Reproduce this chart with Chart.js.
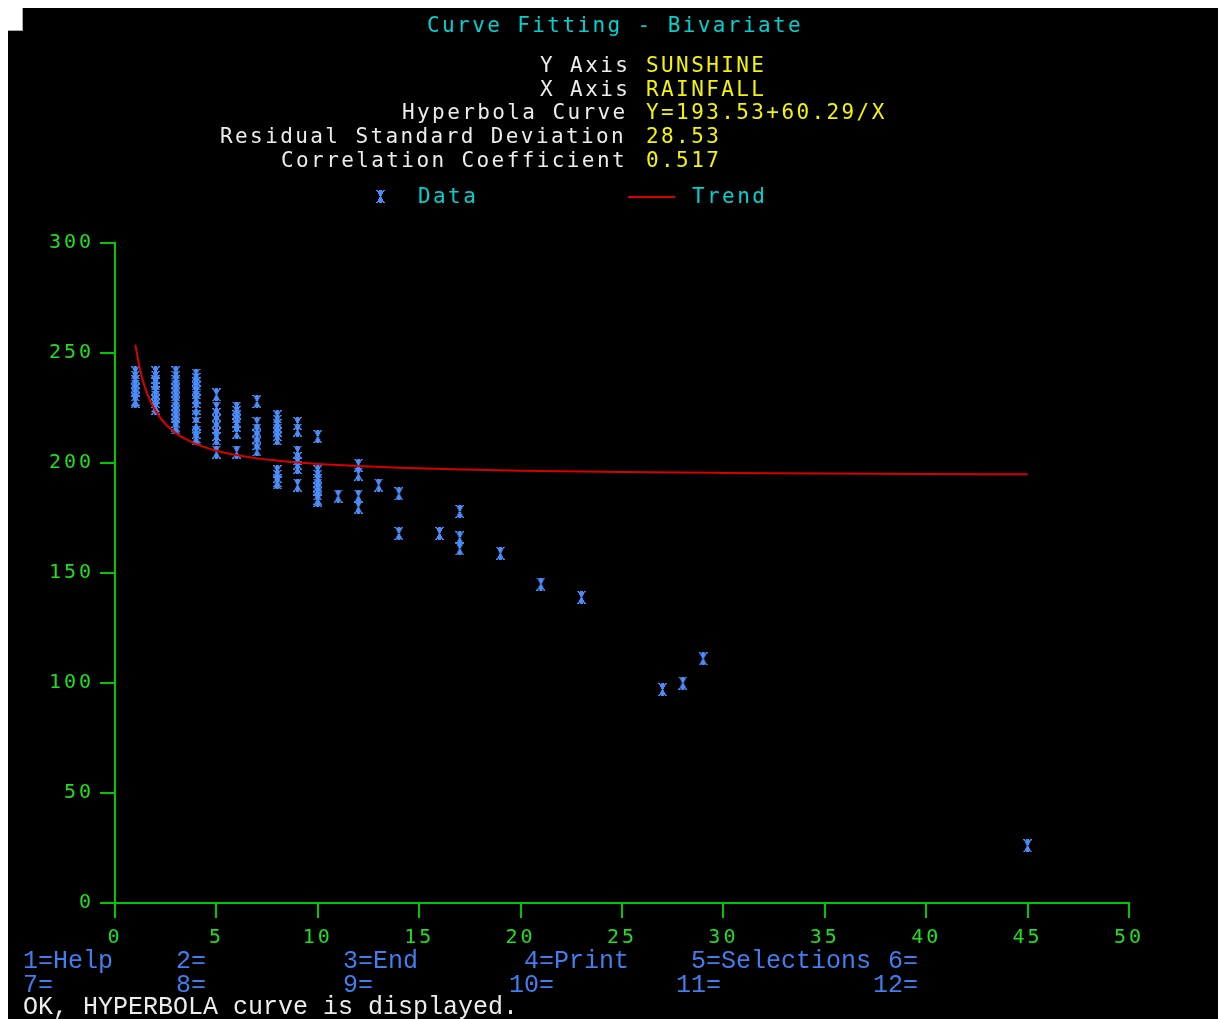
<!DOCTYPE html>
<html>
<head>
<meta charset="utf-8">
<title>Curve Fitting - Bivariate</title>
<script src="https://cdn.jsdelivr.net/npm/chart.js@4.4.1/dist/chart.umd.min.js"></script>
<style>
  html, body { margin: 0; padding: 0; width: 1219px; height: 1019px; overflow: hidden; background: #fff; }
  #screen { position: absolute; left: 8px; top: 8px; width: 1210px; height: 1011px; background: #000; }
  #notch { position: absolute; left: 8px; top: 8px; width: 14px; height: 22px; background: #fff;
           border-right: 1px solid #aaa; border-bottom: 1px solid #aaa; }
  #chart { position: absolute; left: 0; top: 0; }
  .t { position: absolute; font-family: "DejaVu Sans Mono", monospace; font-size: 21px;
       letter-spacing: 2.4px; line-height: 24px; white-space: pre; }
  .f { position: absolute; font-family: "Liberation Mono", monospace; font-size: 25px;
       line-height: 24px; white-space: pre; color: #3f7ff0; }
  .cyan { color: #00d2d2; }
  .white { color: #ececec; }
  .yellow { color: #f4f400; }
  #legendGlyph { position: absolute; left: 376px; top: 190px; }
  #legendLine { position: absolute; left: 628px; top: 196px; width: 47px; height: 2px; background: #d80000; }
</style>
</head>
<body>
<div id="screen"></div>
<div id="notch"></div>
<canvas id="chart" width="1219" height="1019"></canvas>

<div class="t cyan" style="left:427px; top:13px;">Curve Fitting - Bivariate</div>

<div class="t white" style="left:540px; top:53px;">Y Axis</div>
<div class="t yellow" style="left:646px; top:53px;">SUNSHINE</div>
<div class="t white" style="left:540px; top:77px;">X Axis</div>
<div class="t yellow" style="left:646px; top:77px;">RAINFALL</div>
<div class="t white" style="left:402px; top:100px;">Hyperbola Curve</div>
<div class="t yellow" style="left:646px; top:100px;">Y=193.53+60.29/X</div>
<div class="t white" style="left:220px; top:124px;">Residual Standard Deviation</div>
<div class="t yellow" style="left:646px; top:124px;">28.53</div>
<div class="t white" style="left:281px; top:148px;">Correlation Coefficient</div>
<div class="t yellow" style="left:646px; top:148px;">0.517</div>

<canvas id="legendGlyph" width="9" height="13"></canvas>
<div class="t cyan" style="left:418px; top:184px;">Data</div>
<div id="legendLine"></div>
<div class="t cyan" style="left:692px; top:184px;">Trend</div>

<div class="f" style="left:23px; top:950px;">1=Help</div>
<div class="f" style="left:176px; top:950px;">2=</div>
<div class="f" style="left:343px; top:950px;">3=End</div>
<div class="f" style="left:524px; top:950px;">4=Print</div>
<div class="f" style="left:691px; top:950px;">5=Selections</div>
<div class="f" style="left:888px; top:950px;">6=</div>
<div class="f" style="left:23px; top:974px;">7=</div>
<div class="f" style="left:176px; top:974px;">8=</div>
<div class="f" style="left:343px; top:974px;">9=</div>
<div class="f" style="left:509px; top:974px;">10=</div>
<div class="f" style="left:676px; top:974px;">11=</div>
<div class="f" style="left:873px; top:974px;">12=</div>
<div class="f white" style="left:23px; top:996px;">OK, HYPERBOLA curve is displayed.</div>

<script>
// rainfall values and the sunshine readings plotted above each one
const rainfall = [1, 2, 3, 4, 5, 6, 7, 8, 9, 10, 11, 12, 13, 14, 16, 17, 19, 21, 23, 27, 28, 29, 45];
const sunshine = [
  [241, 239, 237, 235, 233, 231, 229, 228],
  [241, 239, 237, 236, 234, 232, 230, 228, 226, 225],
  [241, 239, 237, 235, 233, 231, 229, 227, 225, 223, 221, 219, 217, 216],
  [240, 238, 236, 234, 232, 230, 228, 225, 221, 218, 214, 212, 211],
  [231, 225, 222, 219, 216, 213, 211, 205],
  [225, 223, 221, 219, 217, 214, 205],
  [228, 218, 215, 212, 209, 206],
  [221, 219, 217, 215, 213, 211, 196, 194, 192, 191],
  [218, 215, 205, 202, 200, 198, 190],
  [212, 196, 194, 192, 190, 188, 186, 184, 183],
  [185],
  [199, 195, 185, 180],
  [190],
  [186, 168],
  [168],
  [178, 166, 161],
  [159],
  [145],
  [139],
  [97],
  [100],
  [111],
  [26],
];

// trend curve
const trendX = [1, 1.25, 1.5, 1.75, 2, 2.5, 3, 3.5, 4, 5, 6, 7, 8, 9, 10, 12, 14, 17, 20, 25, 30, 35, 40, 45];
const trendY = [253.8, 241.8, 233.7, 228.0, 223.7, 217.6, 213.6, 210.8, 208.6, 205.6, 203.6, 202.1,
                201.1, 200.2, 199.6, 198.6, 197.8, 197.1, 196.5, 195.9, 195.5, 195.2, 195.0, 194.9];

const GREEN = "#00c800";
const GREEN_TXT = "#1ee01e";
const BLUE = "#4a8cf8";
const TERM_FONT = "'DejaVu Sans Mono', monospace";

// little hourglass "x" the terminal draws for each data point
const glyphRows = [
  "##.###.##",
  ".#######.",
  "..#####..",
  "..#####..",
  "...###...",
  "...###...",
  "....#....",
  "...###...",
  "...###...",
  "..#####..",
  "..#####..",
  ".#######.",
  "##.###.##",
];

function drawGlyph(canvas, color) {
  const g = canvas.getContext("2d");
  g.fillStyle = color;
  glyphRows.forEach((row, y) => {
    [...row].forEach((ch, x) => {
      if (ch === "#") g.fillRect(x, y, 1, 1);
    });
  });
  return canvas;
}

const glyph = document.createElement("canvas");
glyph.width = 9;
glyph.height = glyphRows.length;
drawGlyph(glyph, BLUE);
drawGlyph(document.getElementById("legendGlyph"), BLUE);

const points = [];
rainfall.forEach((x, i) => {
  sunshine[i].forEach((y) => points.push({ x, y }));
});
const trend = trendX.map((x, i) => ({ x, y: trendY[i] }));

const spacing = {
  id: "spacing",
  beforeDraw(chart) {
    chart.ctx.letterSpacing = "3px";
  },
};

const axisStyle = {
  grid: { drawOnChartArea: false, drawTicks: true, tickLength: 15, color: GREEN, lineWidth: 2 },
  border: { display: true, color: GREEN, width: 2 },
};

new Chart(document.getElementById("chart").getContext("2d"), {
  type: "scatter",
  data: {
    datasets: [
      {
        label: "Trend",
        type: "line",
        data: trend,
        borderColor: "#d80000",
        borderWidth: 2,
        pointRadius: 0,
        fill: false,
        cubicInterpolationMode: "monotone",
        order: 0,
      },
      {
        label: "Data",
        data: points,
        pointStyle: glyph,
        pointRadius: 5,
        order: 1,
      },
    ],
  },
  options: {
    responsive: false,
    animation: false,
    events: [],
    layout: { padding: { top: 243, right: 90, bottom: 76, left: 0 } },
    plugins: { legend: { display: false }, tooltip: { enabled: false } },
    scales: {
      x: {
        type: "linear",
        min: 0,
        max: 50,
        ...axisStyle,
        ticks: { stepSize: 5, color: GREEN_TXT, padding: 8, maxRotation: 0, font: { family: TERM_FONT, size: 20 } },
        afterFit: (scale) => { scale.height = 40; },
      },
      y: {
        min: 0,
        max: 300,
        ...axisStyle,
        ticks: { stepSize: 50, color: GREEN_TXT, padding: 6, font: { family: TERM_FONT, size: 20 } },
        afterFit: (scale) => { scale.width = 115; },
      },
    },
  },
  plugins: [spacing],
});
</script>
</body>
</html>
